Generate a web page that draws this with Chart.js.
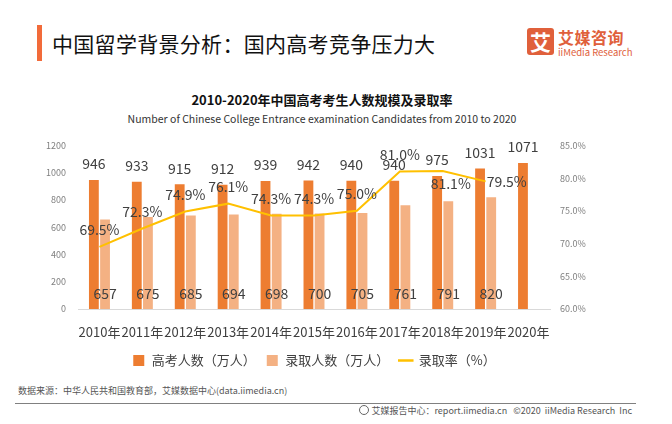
<!DOCTYPE html>
<html>
<head>
<meta charset="utf-8">
<script src="https://cdn.jsdelivr.net/npm/chart.js@4"></script>
<style>
  body { margin: 0; width: 672px; height: 424px; background: #fff; position: relative; overflow: hidden;
         font-family: "Noto Sans CJK SC", "Noto Sans", sans-serif; }
  .abs { position: absolute; white-space: nowrap; }
  #bar { left: 37px; top: 25px; width: 5px; height: 36px; background: #F26B3A; }
  #title { left: 52px; top: 29px; font-size: 21px; line-height: 28px; color: #111; letter-spacing: 0.3px; }
  #logoIcon { left: 527px; top: 28px; width: 27px; height: 27px; background: #E0603B; border-radius: 3px;
              color: #fff; font-size: 21px; font-weight: 700; line-height: 27px; text-align: center; }
  #logoCn { left: 558px; top: 27px; font-size: 16px; font-weight: 700; color: #E0603B; letter-spacing: 0.5px; line-height: 20px; }
  #logoEn { left: 558px; top: 46px; font-size: 9.5px; color: #E0603B; line-height: 12px; }
  #ctitle { left: 0; width: 644px; top: 91px; text-align: center; font-size: 13px; font-weight: 700; color: #111; line-height: 18px; }
  #csub { left: 0; width: 644px; top: 112px; text-align: center; font-size: 10.5px; color: #333; line-height: 14px; }
  #chartBox { left: 0; top: 128px; width: 672px; height: 252px; }
  #source { left: 18px; top: 385px; font-size: 9px; color: #555; line-height: 12px; }
  #rule { left: 15px; top: 403px; width: 621px; height: 1px; background: #808080; }
  #foot { right: 40px; top: 405px; font-size: 9px; color: #555; line-height: 12px; }
  #foot .ic { display: inline-block; width: 8px; height: 8px; border: 1px solid #666; border-radius: 50%; vertical-align: -1px; margin-right: 2px; }
</style>
</head>
<body>
<div class="abs" id="bar"></div>
<div class="abs" id="title">中国留学背景分析：国内高考竞争压力大</div>
<div class="abs" id="logoIcon">艾</div>
<div class="abs" id="logoCn">艾媒咨询</div>
<div class="abs" id="logoEn">iiMedia Research</div>
<div class="abs" id="ctitle">2010-2020年中国高考考生人数规模及录取率</div>
<div class="abs" id="csub">Number of Chinese College Entrance examination Candidates from 2010 to 2020</div>
<div class="abs" id="chartBox"><canvas id="myChart" width="672" height="252"></canvas></div>
<div class="abs" id="source">数据来源：中华人民共和国教育部，艾媒数据中心(data.iimedia.cn)</div>
<div class="abs" id="rule"></div>
<div class="abs" id="foot"><span class="ic"></span>艾媒报告中心：report.iimedia.cn&nbsp;&nbsp;&nbsp;©2020&nbsp;&nbsp;iiMedia Research&nbsp;&nbsp;Inc</div>

<script>
// data
const years = ['2010年', '2011年', '2012年', '2013年', '2014年', '2015年', '2016年', '2017年', '2018年', '2019年', '2020年'];
const examinees = [946, 933, 915, 912, 939, 942, 940, 940, 975, 1031, 1071];   // 高考人数（万人）
const admitted = [657, 675, 685, 694, 698, 700, 705, 761, 791, 820, null];     // 录取人数（万人）
const admitRate = [69.5, 72.3, 74.9, 76.1, 74.3, 74.3, 75.0, 81.0, 81.1, 79.5, null]; // 录取率（%）

// where each rate label sits relative to its point
const rateLabelPos = ['top', 'top', 'top', 'top', 'top', 'top', 'top', 'top', 'bottom', 'right', 'top'];

const textColor = '#404040';
const labelFont = '14px "Noto Sans CJK SC", sans-serif';

// simple value labels, drawn after the datasets
const valueLabels = {
  id: 'valueLabels',
  afterDatasetsDraw(chart) {
    const ctx = chart.ctx;
    const yScale = chart.scales.y;
    ctx.save();
    ctx.font = labelFont;
    ctx.fillStyle = textColor;
    ctx.textBaseline = 'middle';

    // 高考人数: above the bar
    chart.getDatasetMeta(0).data.forEach((bar, i) => {
      ctx.textAlign = 'center';
      ctx.fillText(examinees[i], bar.x, bar.y - 16);
    });

    // 录取人数: near the bottom of the bar
    chart.getDatasetMeta(1).data.forEach((bar, i) => {
      if (admitted[i] == null) return;
      ctx.textAlign = 'center';
      ctx.fillText(admitted[i], bar.x, yScale.getPixelForValue(0) - 15);
    });

    // 录取率
    chart.getDatasetMeta(2).data.forEach((pt, i) => {
      if (admitRate[i] == null) return;
      const txt = admitRate[i].toFixed(1) + '%';
      const pos = rateLabelPos[i];
      if (pos === 'right') {
        ctx.textAlign = 'left';
        ctx.fillText(txt, pt.x + 1, pt.y);
      } else if (pos === 'bottom') {
        ctx.textAlign = 'center';
        ctx.fillText(txt, pt.x + 8, pt.y + 13);
      } else {
        ctx.textAlign = 'center';
        ctx.fillText(txt, pt.x, pt.y - 17);
      }
    });
    ctx.restore();
  }
};

const tickFont = { family: '"Noto Sans CJK SC", sans-serif', size: 9 };

const ctx = document.getElementById('myChart').getContext('2d');
new Chart(ctx, {
  type: 'bar',
  data: {
    labels: years,
    datasets: [
      {
        label: '高考人数（万人）',
        data: examinees,
        backgroundColor: '#ED7D31',
        categoryPercentage: 0.52,
        barPercentage: 0.88,
        yAxisID: 'y',
        order: 1,
      },
      {
        label: '录取人数（万人）',
        data: admitted,
        backgroundColor: '#F4B183',
        categoryPercentage: 0.52,
        barPercentage: 0.88,
        yAxisID: 'y',
        order: 1,
      },
      {
        type: 'line',
        label: '录取率（%）',
        data: admitRate,
        borderColor: '#FFC000',
        backgroundColor: '#FFC000',
        borderWidth: 2,
        pointRadius: 0,
        tension: 0,
        yAxisID: 'y1',
        order: 0,
      },
    ],
  },
  options: {
    responsive: false,
    animation: false,
    layout: { padding: { top: 13, bottom: 3, left: 0, right: 0 } },
    plugins: {
      tooltip: { enabled: false },
      legend: {
        position: 'bottom',
        fullSize: false,
        labels: {
          color: textColor,
          font: { family: '"Noto Sans CJK SC", sans-serif', size: 13 },
          padding: 10,
          usePointStyle: true,
          boxHeight: 11,
          sort: (a, b) => a.datasetIndex - b.datasetIndex,
          generateLabels(chart) {
            return chart.data.datasets.map((ds, i) => ({
              text: ds.label,
              fillStyle: ds.backgroundColor,
              strokeStyle: ds.type === 'line' ? ds.borderColor : ds.backgroundColor,
              lineWidth: ds.type === 'line' ? 2.5 : 0,
              pointStyle: ds.type === 'line' ? 'line' : 'rect',
              fontColor: textColor,
              datasetIndex: i,
              hidden: false,
            }));
          },
        },
      },
    },
    scales: {
      x: {
        grid: { display: false, drawTicks: false },
        border: { display: true, color: '#D9D9D9', width: 1 },
        ticks: {
          color: textColor,
          font: { family: '"Noto Sans CJK SC", sans-serif', size: 13 },
          padding: 15,
          autoSkip: false,
          maxRotation: 0,
        },
        afterFit: (s) => { s.height = 35; },
      },
      y: {
        position: 'left',
        min: 0,
        max: 1200,
        grid: { display: false, drawTicks: false },
        border: { display: false },
        ticks: {
          stepSize: 200,
          color: '#7F7F7F',
          font: tickFont,
          padding: 12,
          callback: (v) => String(v),
        },
        afterFit: (s) => { s.width = 78; },
      },
      y1: {
        position: 'right',
        min: 60,
        max: 85,
        grid: { display: false, drawTicks: false },
        border: { display: false },
        ticks: {
          stepSize: 5,
          color: '#7F7F7F',
          font: tickFont,
          padding: 10,
          callback: (v) => v.toFixed(1) + '%',
        },
        afterFit: (s) => { s.width = 122; },
      },
    },
  },
  plugins: [valueLabels],
});
</script>
</body>
</html>
